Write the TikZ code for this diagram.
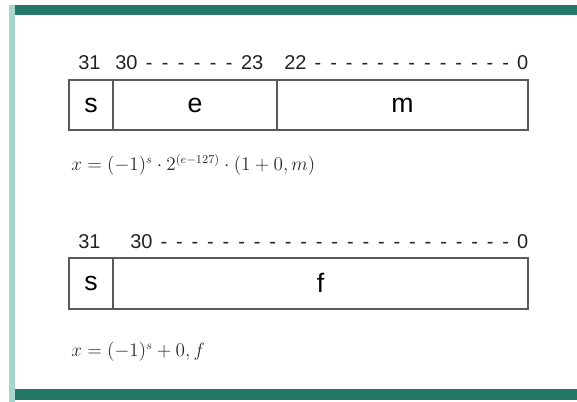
\documentclass[tikz,border=0pt]{standalone}
\usepackage{amsmath}
\usepackage{xcolor}
\usepackage{fontspec}
\setmainfont{Liberation Sans}
\usepackage{tikz}
\usetikzlibrary{positioning}

\definecolor{barteal}{HTML}{237868}
\definecolor{barlight}{HTML}{A9D6CC}
\definecolor{fieldline}{HTML}{5A5A5A}
\definecolor{labelgray}{HTML}{222222}
\definecolor{formgray}{HTML}{2A2A2A}

% bit range label: from ----- to, stretched to a given width
\newcommand{\bitrange}[3]{\makebox[#1]{#2\,\xleaders\hbox to 0.75em{\hss-\hss}\hfill\,#3}}

\begin{document}
\begin{tikzpicture}[x=0.75pt, y=-0.75pt,
  field/.style={draw=fieldline, line width=1.4pt, inner sep=0pt, outer sep=0pt,
    minimum height=37.5pt, font=\fontsize{20}{22}\selectfont},
  bits/.style={anchor=base west, inner sep=0pt, text=labelgray, font=\fontsize{15}{17}\selectfont},
  formula/.style={anchor=west, inner sep=0pt, text=formgray, font=\fontsize{13.3}{15}\selectfont}]
\useasboundingbox (0,0) rectangle (577,402);
% frame bars
\fill[barlight] (9,5) rectangle (15,402);
\fill[barteal] (15,5) rectangle (577,15);
\fill[barteal] (15,389) rectangle (577,400);

% single precision: s | e | m
\node[field, anchor=north west, minimum width=33pt] (s1) at (69,80) {s};
\node[field, right=0pt of s1, minimum width=123pt] (e1) {e};
\node[field, right=0pt of e1, minimum width=188.25pt] (m1) {m};
\node[bits] (b31a) at (78,70) {31};
\node[bits] (bexp) at (115,70) {\bitrange{111pt}{30}{23}};
\node[bits] (bman) at (284,70) {\bitrange{183pt}{22}{0}};
\node[formula] (eqa) at (71,165) {$x=(-1)^{s}\cdot 2^{(e-127)}\cdot(1+0,m)$};

% fixed point: s | f
\node[field, anchor=north west, minimum width=33pt, minimum height=38pt] (s2) at (69,258) {s};
\node[field, right=0pt of s2, minimum width=311.25pt, minimum height=38pt] (f2) {f};
\node[bits] (b31b) at (78,248) {31};
\node[bits] (bfrac) at (130,248) {\bitrange{298.5pt}{30}{0}};
\node[formula] (eqb) at (71,352) {$x=(-1)^{s}+0,f$};
\end{tikzpicture}
\end{document}
